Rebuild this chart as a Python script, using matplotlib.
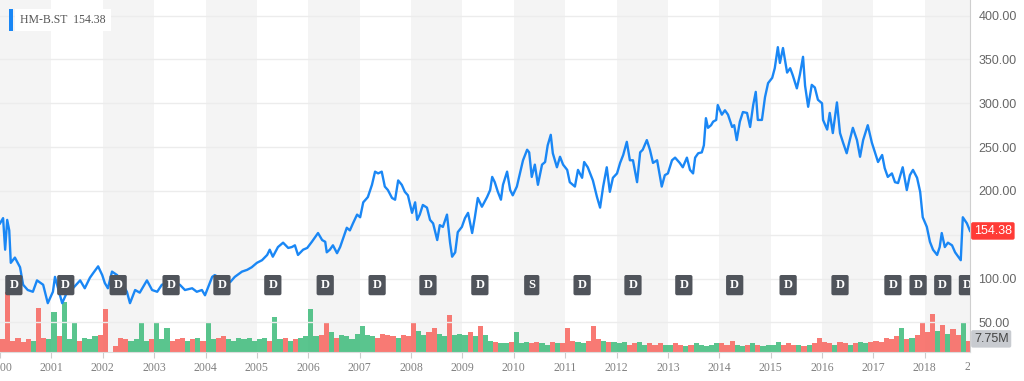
import numpy as np
import matplotlib.pyplot as plt
from matplotlib.transforms import blended_transform_factory, Bbox, TransformedBbox
from matplotlib.patches import Rectangle

# HM-B.ST closing price (decimal year, SEK)
price_dates = [
    2000.00, 2000.06, 2000.10, 2000.14, 2000.18, 2000.21, 2000.29, 2000.39, 2000.45, 2000.54,
    2000.64, 2000.72, 2000.84, 2000.93, 2001.03, 2001.07, 2001.21, 2001.30, 2001.42, 2001.56,
    2001.65, 2001.75, 2001.81, 2001.91, 2001.99, 2002.04, 2002.10, 2002.18, 2002.28, 2002.37,
    2002.47, 2002.53, 2002.63, 2002.72, 2002.86, 2002.96, 2003.06, 2003.15, 2003.31, 2003.50,
    2003.60, 2003.74, 2003.83, 2003.93, 2003.99, 2004.05, 2004.13, 2004.18, 2004.24, 2004.34,
    2004.48, 2004.57, 2004.71, 2004.81, 2004.90, 2005.00, 2005.10, 2005.20, 2005.25, 2005.31,
    2005.41, 2005.51, 2005.61, 2005.68, 2005.74, 2005.80, 2005.90, 2005.98, 2006.07, 2006.13,
    2006.19, 2006.27, 2006.33, 2006.36, 2006.42, 2006.48, 2006.56, 2006.62, 2006.68, 2006.75,
    2006.81, 2006.87, 2006.95, 2007.01, 2007.07, 2007.16, 2007.24, 2007.30, 2007.36, 2007.43,
    2007.49, 2007.55, 2007.63, 2007.69, 2007.75, 2007.82, 2007.88, 2007.94, 2008.02, 2008.08,
    2008.12, 2008.17, 2008.23, 2008.31, 2008.37, 2008.43, 2008.51, 2008.56, 2008.62, 2008.70,
    2008.76, 2008.80, 2008.86, 2008.91, 2008.99, 2009.05, 2009.11, 2009.19, 2009.24, 2009.30,
    2009.38, 2009.48, 2009.54, 2009.58, 2009.63, 2009.69, 2009.75, 2009.79, 2009.87, 2009.93,
    2009.98, 2010.06, 2010.12, 2010.18, 2010.26, 2010.30, 2010.35, 2010.41, 2010.47, 2010.55,
    2010.61, 2010.66, 2010.72, 2010.76, 2010.84, 2010.90, 2010.96, 2011.04, 2011.09, 2011.19,
    2011.25, 2011.33, 2011.37, 2011.44, 2011.54, 2011.62, 2011.68, 2011.74, 2011.81, 2011.87,
    2011.93, 2012.01, 2012.07, 2012.13, 2012.20, 2012.26, 2012.32, 2012.40, 2012.46, 2012.51,
    2012.59, 2012.65, 2012.71, 2012.79, 2012.88, 2012.94, 2013.00, 2013.08, 2013.14, 2013.23,
    2013.29, 2013.37, 2013.43, 2013.49, 2013.53, 2013.59, 2013.66, 2013.70, 2013.74, 2013.78,
    2013.84, 2013.88, 2013.94, 2013.97, 2014.05, 2014.11, 2014.17, 2014.25, 2014.29, 2014.34,
    2014.40, 2014.46, 2014.54, 2014.60, 2014.66, 2014.71, 2014.75, 2014.83, 2014.89, 2014.95,
    2015.03, 2015.08, 2015.14, 2015.18, 2015.24, 2015.32, 2015.38, 2015.43, 2015.51, 2015.57,
    2015.63, 2015.67, 2015.73, 2015.80, 2015.86, 2015.92, 2016.00, 2016.02, 2016.10, 2016.15,
    2016.21, 2016.29, 2016.35, 2016.41, 2016.48, 2016.54, 2016.60, 2016.68, 2016.74, 2016.80,
    2016.89, 2016.97, 2017.03, 2017.09, 2017.17, 2017.22, 2017.28, 2017.36, 2017.42, 2017.48,
    2017.57, 2017.65, 2017.71, 2017.77, 2017.85, 2017.91, 2017.96, 2018.04, 2018.10, 2018.16,
    2018.24, 2018.29, 2018.33, 2018.39, 2018.45, 2018.53, 2018.59, 2018.65, 2018.70, 2018.74,
    2018.82, 2018.88,
]
price_close = [
    163, 169, 133, 167, 155, 118, 124, 113, 93, 87,
    85, 98, 93, 72, 85, 102, 72, 84, 89, 98,
    89, 101, 106, 114, 104, 95, 89, 108, 104, 95,
    85, 72, 87, 84, 98, 87, 85, 93, 96, 93,
    87, 89, 85, 87, 81, 90, 102, 104, 102, 96,
    96, 102, 108, 110, 113, 118, 121, 127, 133, 125,
    136, 141, 135, 136, 138, 127, 133, 135, 142, 147,
    152, 144, 142, 130, 133, 138, 129, 136, 146, 158,
    155, 163, 173, 170, 187, 193, 207, 222, 220, 222,
    205, 201, 192, 190, 212, 207, 199, 195, 175, 187,
    167, 173, 184, 181, 167, 163, 144, 161, 159, 173,
    141, 125, 130, 153, 159, 169, 175, 152, 169, 192,
    182, 193, 201, 216, 210, 199, 190, 207, 222, 201,
    195, 205, 220, 235, 247, 244, 216, 230, 207, 230,
    233, 252, 264, 243, 227, 239, 230, 224, 210, 205,
    224, 215, 233, 227, 212, 193, 181, 205, 227, 199,
    215, 220, 232, 241, 256, 235, 235, 210, 244, 247,
    258, 247, 232, 235, 205, 218, 220, 235, 238, 232,
    227, 238, 224, 220, 238, 243, 244, 252, 283, 272,
    275, 279, 281, 298, 287, 292, 287, 273, 275, 258,
    279, 290, 289, 273, 298, 313, 281, 281, 307, 323,
    329, 340, 364, 346, 363, 335, 340, 332, 317, 333,
    353, 320, 296, 321, 318, 304, 300, 281, 270, 289,
    266, 301, 266, 255, 243, 258, 272, 258, 239, 258,
    275, 255, 244, 233, 241, 226, 216, 220, 210, 209,
    227, 201, 218, 224, 215, 199, 170, 159, 142, 133,
    127, 136, 152, 136, 141, 138, 130, 125, 121, 170,
    163, 154.38,
]

# volume in millions, one value per tenth of a year from 2000.0
volume_m = [
    9, 42, 8, 10, 7, 9, 8, 31, 10, 9,
    28, 11, 35, 9, 21, 8, 10, 9, 11, 12,
    30, 0, 4, 10, 9, 8, 9, 21, 8, 9,
    21, 9, 17, 8, 9, 10, 8, 9, 10, 8,
    21, 9, 10, 11, 9, 8, 10, 9, 10, 8,
    9, 10, 8, 25, 9, 10, 8, 9, 10, 11,
    30, 11, 12, 21, 14, 10, 12, 11, 9, 13,
    18, 12, 11, 10, 13, 12, 11, 10, 12, 11,
    21, 15, 12, 14, 17, 13, 11, 26, 12, 13,
    12, 14, 11, 18, 12, 8, 7, 6, 6, 7,
    14, 6, 7, 6, 7, 6, 5, 7, 6, 6,
    17, 8, 7, 6, 8, 18, 9, 8, 7, 7,
    6, 7, 5, 6, 7, 5, 6, 5, 6, 5,
    5, 6, 5, 4, 5, 6, 5, 4, 5, 6,
    6, 5, 8, 5, 4, 5, 6, 5, 4, 5,
    5, 7, 5, 6, 5, 5, 4, 5, 6, 10,
    7, 6, 5, 7, 6, 5, 6, 7, 6, 7,
    8, 7, 10, 9, 11, 17, 9, 10, 12, 21,
    14, 27, 15, 19, 13, 16, 12, 21, 7.75,
]

# dividend / split events
event_dates = [2000.27, 2001.28, 2002.30, 2003.33, 2004.32, 2005.31, 2006.33, 2007.34,
               2008.33, 2009.34, 2010.35, 2011.33, 2012.32, 2013.31, 2014.30, 2015.34,
               2016.35, 2017.38, 2017.87, 2018.35, 2018.83]
event_kind = ['D'] * 10 + ['S'] + ['D'] * 10

year_ticks = list(range(2000, 2019))
price_ticks = [50, 100, 150, 200, 250, 300, 350, 400]
last_price = 154.38
last_volume = 7.75

x_end = 2018.88

fig = plt.figure(figsize=(10.24, 3.81), dpi=100)
ax = fig.add_axes([0, 29 / 381, 970 / 1024, 352 / 381])
vax = ax.twinx()
ax.set_zorder(vax.get_zorder() + 1)
ax.patch.set_visible(False)

# alternating year bands and volume on the lower axes
for y in year_ticks:
    if y % 2 == 0:
        vax.axvspan(y, y + 1, color='#f4f4f4', lw=0, zorder=0)

vol_x = 2000.05 + 0.1 * np.arange(len(volume_m))
p_start = np.interp(vol_x - 0.05, price_dates, price_close)
p_end = np.interp(vol_x + 0.05, price_dates, price_close)
vol_colors = ['#3dbb7a' if e >= s else '#f7635c' for s, e in zip(p_start, p_end)]
vax.bar(vol_x, volume_m, width=0.1, color=vol_colors, alpha=0.85, lw=0, zorder=2)
vax.set_ylim(0, 248)
vax.set_yticks([])
for s in vax.spines.values():
    s.set_visible(False)

# price line
ax.plot(price_dates, price_close, color='#1a87f5', lw=1.7, zorder=3)
ax.set_xlim(2000, x_end)
ax.set_ylim(16.3, 417.8)

# 150 gridline stays, its label is hidden under the last-price tag
ax.set_yticks(price_ticks)
ax.set_yticklabels(['' if v == 150 else '%.2f' % v for v in price_ticks])
ax.yaxis.tick_right()
ax.grid(axis='y', color='#ececec', lw=1)
ax.tick_params(axis='y', length=0, pad=6, labelsize=9, labelcolor='#666666',
               labelfontfamily='Liberation Sans')

ax.set_xticks(year_ticks)
ax.set_xticklabels([str(y) for y in year_ticks])
ax.tick_params(axis='x', length=4, color='#cccccc', pad=3, labelsize=8.5,
               labelcolor='#808080', labelfontfamily='Liberation Serif')

for side in ['top', 'left']:
    ax.spines[side].set_visible(False)
ax.spines['right'].set_color('#cfcfcf')
ax.spines['bottom'].set_color('#dddddd')

# partly hidden 2019 label
t = ax.text(2019, -0.025, '2019', transform=blended_transform_factory(ax.transData, ax.transAxes),
            ha='center', va='top', fontsize=8.5, color='#808080', family='Liberation Serif',
            clip_on=True)
t.set_clip_box(TransformedBbox(Bbox([[-0.01, -1], [1.0, 1]]), ax.transAxes))

# event markers
ev_tr = blended_transform_factory(ax.transData, ax.transAxes)
for d, k in zip(event_dates, event_kind):
    ax.text(d, 0.19, k, transform=ev_tr, ha='center', va='center', fontsize=9,
            fontweight='bold', color='white', family='Liberation Serif', zorder=4,
            clip_on=True,
            bbox=dict(boxstyle='round,pad=0.33,rounding_size=0.15', fc='#50545b', ec='none'))

# last price and last volume labels
px_tr = blended_transform_factory(ax.transAxes, ax.transData)
ax.text(1.004, last_price, '%.2f' % last_price, transform=px_tr, ha='left', va='center',
        fontsize=9, color='white', family='Liberation Sans', clip_on=False,
        bbox=dict(boxstyle='round,pad=0.22,rounding_size=0.15', fc='#ff3b36', ec='none'))
vol_tr = blended_transform_factory(vax.transAxes, vax.transData)
vax.text(1.004, last_volume + 1.5, '%.2fM' % last_volume, transform=vol_tr, ha='left',
         va='center', fontsize=9, color='#444444', family='Liberation Sans', clip_on=False,
         bbox=dict(boxstyle='round,pad=0.22,rounding_size=0.15', fc='#c8cbd0', ec='none'))

# legend chip
ax.text(20 / 970, 1 - 20 / 352, 'HM-B.ST  %.2f' % last_price, transform=ax.transAxes,
        ha='left', va='center', fontsize=8.5, color='#555555', family='Liberation Serif',
        zorder=5, bbox=dict(boxstyle='square,pad=0.45', fc='white', ec='none'))
ax.add_patch(Rectangle((9 / 970, 1 - 31 / 352), 4 / 970, 22 / 352, transform=ax.transAxes,
                       fc='#1a87f5', ec='none', zorder=6, clip_on=False))

fig.savefig('out.png', dpi=100)
